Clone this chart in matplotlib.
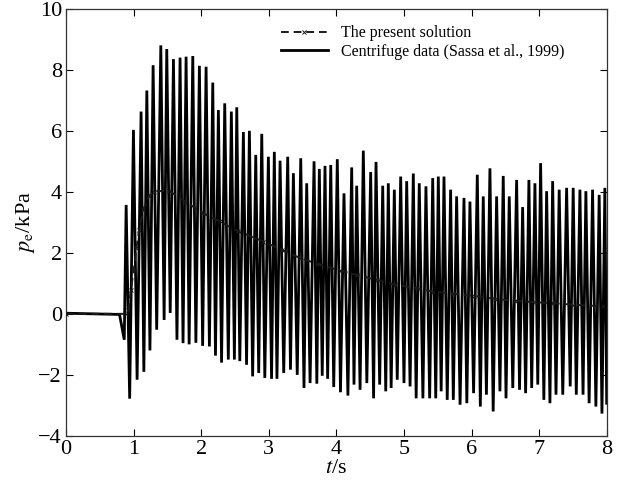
import numpy as np
import matplotlib
matplotlib.use("Agg")
import matplotlib.pyplot as plt

plt.rcParams['font.family'] = ['Liberation Serif', 'DejaVu Serif']
plt.rcParams['mathtext.fontset'] = 'stix'

# centrifuge record before shaking starts
pre_t = [0.0, 0.79, 0.86]
pre_v = [0.02, -0.02, -0.85]

# peaks of the measured trace
peak_t = [0.888, 0.996, 1.109, 1.194, 1.287, 1.401, 1.489, 1.588, 1.686, 1.775,
          1.874, 1.972, 2.071, 2.170, 2.253, 2.347, 2.445, 2.525, 2.623, 2.712,
          2.806, 2.895, 2.993, 3.081, 3.166, 3.279, 3.363, 3.472, 3.560, 3.669,
          3.747, 3.831, 3.916, 4.013, 4.112, 4.226, 4.300, 4.398, 4.507, 4.586,
          4.685, 4.768, 4.857, 4.951, 5.040, 5.138, 5.226, 5.325, 5.425, 5.508,
          5.592, 5.690, 5.779, 5.888, 5.976, 6.085, 6.173, 6.272, 6.371, 6.469,
          6.558, 6.667, 6.756, 6.849, 6.938, 7.022, 7.111, 7.200, 7.297, 7.407,
          7.504, 7.604, 7.692, 7.791, 7.889, 7.973]
peak_v = [3.57, 6.03, 6.63, 7.32, 8.15, 8.8, 8.68, 8.35, 8.4, 8.43,
          8.45, 8.13, 8.1, 7.58, 6.68, 6.9, 6.63, 6.77, 5.96, 6.0,
          5.21, 5.9, 5.15, 5.31, 5.02, 5.15, 4.61, 5.1, 4.28, 5.0,
          4.75, 4.85, 4.88, 5.07, 3.95, 4.8, 4.2, 5.35, 4.65, 4.98,
          4.2, 4.28, 4.07, 4.5, 4.35, 4.6, 4.28, 4.18, 4.45, 4.5,
          4.5, 4.07, 3.85, 3.8, 3.68, 4.56, 3.85, 4.77, 3.85, 4.52,
          3.85, 4.39, 3.5, 4.39, 4.28, 4.94, 4.02, 4.35, 4.07, 4.13,
          4.13, 4.07, 4.02, 4.07, 3.9, 4.13]

# troughs of the measured trace
trough_t = [0.94, 1.05, 1.15, 1.24, 1.34, 1.45, 1.54, 1.64, 1.73, 1.82,
            1.92, 2.02, 2.12, 2.21, 2.30, 2.40, 2.49, 2.57, 2.67, 2.76,
            2.85, 2.94, 3.04, 3.12, 3.22, 3.32, 3.42, 3.52, 3.61, 3.71,
            3.79, 3.87, 3.96, 4.06, 4.17, 4.26, 4.35, 4.45, 4.55, 4.64,
            4.73, 4.81, 4.90, 5.00, 5.09, 5.18, 5.28, 5.38, 5.47, 5.55,
            5.64, 5.73, 5.83, 5.93, 6.03, 6.13, 6.22, 6.32, 6.42, 6.51,
            6.61, 6.71, 6.80, 6.89, 6.98, 7.07, 7.16, 7.25, 7.35, 7.46,
            7.55, 7.65, 7.74, 7.84, 7.93, 8.00]
trough_v = [-2.78, -2.16, -1.9, -1.2, -0.52, -0.2, 0.03, -0.85, -0.96, -1.0,
            -0.95, -1.05, -1.07, -1.37, -1.6, -1.5, -1.5, -1.55, -1.67, -2.05,
            -1.94, -2.1, -2.13, -2.13, -1.94, -1.83, -2.0, -2.43, -2.27, -2.29,
            -2.03, -2.13, -2.4, -2.57, -2.68, -2.32, -2.49, -2.27, -2.77, -2.32,
            -2.54, -2.43, -2.16, -2.27, -2.38, -2.77, -2.77, -2.77, -2.77, -2.54,
            -2.82, -2.82, -2.98, -2.93, -2.6, -3.04, -2.65, -3.2, -2.54, -2.77,
            -2.43, -2.49, -2.6, -2.43, -2.32, -2.82, -2.93, -2.65, -2.65, -2.38,
            -2.65, -2.65, -2.93, -3.04, -3.27, -2.93]

# the present solution (mean excess pore pressure)
sol_t = [0.0, 0.88, 0.92, 0.96, 1.0, 1.04, 1.08, 1.14, 1.23, 1.30, 1.52, 1.76,
         2.03, 2.27, 2.55, 2.8, 2.92, 3.19, 3.46, 3.73, 4.05, 4.30, 4.60, 4.87,
         5.19, 5.43, 5.73, 6.03, 6.35, 6.64, 6.94, 7.21, 7.50, 7.83, 7.95]
sol_v = [0.0, 0.0, 0.13, 0.79, 1.44, 2.16, 2.75, 3.41, 3.87, 4.01, 4.04, 3.68,
         3.3, 3.03, 2.7, 2.48, 2.37, 2.1, 1.83, 1.63, 1.42, 1.28, 1.11, 0.95,
         0.84, 0.73, 0.66, 0.59, 0.49, 0.43, 0.38, 0.35, 0.3, 0.26, 0.25]

osc = sorted(zip(peak_t + trough_t, peak_v + trough_v))
data_t = pre_t + [p[0] for p in osc]
data_v = pre_v + [p[1] for p in osc]

fig = plt.figure(figsize=(6.3, 4.87), dpi=100)
ax = fig.add_axes([0.105, 0.105, 0.858, 0.877])

ax.plot(data_t, data_v, color='black', lw=2.0, solid_joinstyle='miter',
        label='Centrifuge data (Sassa et al., 1999)', zorder=2)
ax.plot(sol_t, sol_v, color='#1a1a1a', lw=1.4, linestyle=(0, (4, 2.5)),
        marker='x', markersize=2.5, markevery=1, markeredgewidth=0.7,
        label='The present solution', zorder=3)

ax.set_xlim(0, 8)
ax.set_ylim(-4, 10)
ax.set_xticks(range(0, 9))
ax.set_yticks(range(-4, 11, 2))
ax.tick_params(direction='in', top=True, right=True, length=5, width=0.8,
               labelsize=16, pad=3)
for s in ax.spines.values():
    s.set_linewidth(0.9)
    s.set_color('#333333')

ax.set_xlabel(r'$t$/s', fontsize=16, labelpad=0)
ax.set_ylabel(r'$p_{\rm e}$/kPa', fontsize=16, labelpad=1)

h, l = ax.get_legend_handles_labels()
ax.legend(h[::-1], l[::-1], loc='upper left', bbox_to_anchor=(0.37, 0.995),
          frameon=False, fontsize=11.5, handlelength=3.0, handletextpad=0.8,
          labelspacing=0.15)

fig.savefig('out.png', dpi=100)
